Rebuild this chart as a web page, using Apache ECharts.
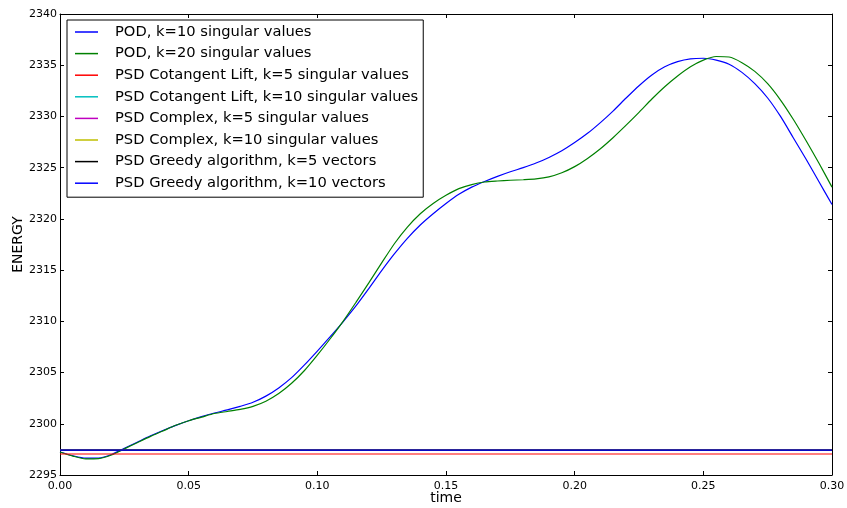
<!DOCTYPE html>
<html>
<head>
<meta charset="utf-8">
<script src="https://cdn.jsdelivr.net/npm/echarts@6/dist/echarts.min.js"></script>
<style>
html, body { margin: 0; padding: 0; background: #fff; }
#chart { width: 847px; height: 508px; }
</style>
</head>
<body>
<div id="chart"></div>
<script>
// time samples for the two POD curves
var times = [0, 0.005, 0.01, 0.015, 0.02, 0.025, 0.03, 0.035, 0.04, 0.045,
	0.05, 0.055, 0.06, 0.065, 0.07, 0.075, 0.08, 0.085, 0.09, 0.095,
	0.10, 0.105, 0.11, 0.115, 0.12, 0.125, 0.13, 0.135, 0.14, 0.145,
	0.15, 0.155, 0.16, 0.165, 0.17, 0.175, 0.18, 0.185, 0.19, 0.195,
	0.20, 0.205, 0.21, 0.215, 0.22, 0.225, 0.23, 0.235, 0.24, 0.245,
	0.25, 0.255, 0.26, 0.265, 0.27, 0.275, 0.28, 0.285, 0.29, 0.295, 0.30];

var pod10 = [2297.25, 2296.88, 2296.64, 2296.66, 2297.0, 2297.6, 2298.2, 2298.8, 2299.35, 2299.85,
	2300.3, 2300.7, 2301.05, 2301.35, 2301.7, 2302.1, 2302.7, 2303.5, 2304.5, 2305.75,
	2307.1, 2308.5, 2309.95, 2311.5, 2313.2, 2314.95, 2316.6, 2318.1, 2319.4, 2320.5,
	2321.5, 2322.4, 2323.1, 2323.65, 2324.15, 2324.6, 2325.0, 2325.45, 2326.0, 2326.65,
	2327.45, 2328.35, 2329.4, 2330.55, 2331.8, 2333.0, 2334.05, 2334.85, 2335.35, 2335.62,
	2335.68, 2335.5, 2335.1, 2334.3, 2333.2, 2331.8, 2330.0, 2327.9, 2325.8, 2323.6, 2321.4];

var pod20 = [2297.25, 2296.85, 2296.58, 2296.6, 2296.95, 2297.55, 2298.15, 2298.75, 2299.3, 2299.85,
	2300.3, 2300.65, 2301.0, 2301.2, 2301.4, 2301.7, 2302.2, 2302.95, 2303.95, 2305.2,
	2306.7, 2308.3, 2310.0, 2311.85, 2313.75, 2315.7, 2317.6, 2319.2, 2320.5, 2321.5,
	2322.3, 2322.95, 2323.35, 2323.6, 2323.7, 2323.77, 2323.82, 2323.9, 2324.1, 2324.5,
	2325.1, 2325.9, 2326.85, 2327.95, 2329.15, 2330.4, 2331.7, 2332.9, 2333.95, 2334.85,
	2335.5, 2335.85, 2335.8, 2335.25, 2334.4, 2333.2, 2331.6, 2329.7, 2327.6, 2325.4, 2323.1];

// PSD energies stay flat, two end points each
var flatTimes = [0, 0.30];
var psdCot5 = [2297.05, 2297.05];
var psdCot10 = [2297.42, 2297.42];
var psdCpx5 = [2297.42, 2297.42];
var psdCpx10 = [2297.42, 2297.42];
var greedy5 = [2297.42, 2297.42];
var greedy10 = [2297.42, 2297.42];

var names = [
	'POD, k=10 singular values',
	'POD, k=20 singular values',
	'PSD Cotangent Lift, k=5 singular values',
	'PSD Cotangent Lift, k=10 singular values',
	'PSD Complex, k=5 singular values',
	'PSD Complex, k=10 singular values',
	'PSD Greedy algorithm, k=5 vectors',
	'PSD Greedy algorithm, k=10 vectors'
];
var colors = ['#0000ff', '#008000', '#ff0000', '#00bfbf', '#bf00bf', '#bfbf00', '#000000', '#0000ff'];

function pairs(xs, ys) {
	var out = [];
	for (var i = 0; i < xs.length; i++) out.push([xs[i], ys[i]]);
	return out;
}

var seriesData = [
	pairs(times, pod10), pairs(times, pod20),
	pairs(flatTimes, psdCot5), pairs(flatTimes, psdCot10),
	pairs(flatTimes, psdCpx5), pairs(flatTimes, psdCpx10),
	pairs(flatTimes, greedy5), pairs(flatTimes, greedy10)
];

var font = 'DejaVu Sans';

var series = [];
for (var i = 0; i < names.length; i++) {
	series.push({
		name: names[i],
		type: 'line',
		data: seriesData[i],
		smooth: i < 2 ? 0.25 : false,
		symbol: 'none',
		animation: false,
		lineStyle: { color: colors[i], width: 1.2 },
		itemStyle: { color: colors[i] }
	});
}

var axisLine = { show: true, onZero: false, lineStyle: { color: '#000', width: 1 } };
var tick = { show: true, inside: true, length: 4, lineStyle: { color: '#000' } };

var chart = echarts.init(document.getElementById('chart'), null, { renderer: 'canvas' });
chart.setOption({
	backgroundColor: '#fff',
	animation: false,
	grid: { left: 60, right: 15, top: 14, bottom: 33, outerBoundsMode: 'none', containLabel: false },
	legend: {
		orient: 'vertical',
		left: 67,
		top: 20,
		padding: [3.5, 5, 5.5, 8],
		itemGap: 4.6,
		itemWidth: 23,
		itemHeight: 1.5,
		icon: 'rect',
		borderColor: '#000',
		borderWidth: 1,
		backgroundColor: '#fff',
		selectedMode: false,
		textStyle: { fontFamily: font, fontSize: 14.7, lineHeight: 17, color: '#000', padding: [0, 0, 0, 12] },
		data: names
	},
	xAxis: [{
		type: 'value',
		min: 0, max: 0.3, interval: 0.05,
		name: 'time',
		nameLocation: 'middle',
		nameGap: 16,
		nameMoveOverlap: false,
		nameTextStyle: { fontFamily: font, fontSize: 14, color: '#000' },
		axisLine: axisLine,
		axisTick: tick,
		splitLine: { show: false },
		axisLabel: {
			fontFamily: font, fontSize: 11, color: '#000', margin: 6,
			formatter: function (v) { return v.toFixed(2); }
		}
	}, {
		type: 'value',
		position: 'top',
		min: 0, max: 0.3, interval: 0.05,
		axisLine: axisLine,
		axisTick: tick,
		splitLine: { show: false },
		axisLabel: { show: false }
	}],
	yAxis: [{
		type: 'value',
		min: 2295, max: 2340, interval: 5,
		name: 'ENERGY',
		nameLocation: 'middle',
		nameGap: 35,
		nameMoveOverlap: false,
		nameTextStyle: { fontFamily: font, fontSize: 14, color: '#000' },
		axisLine: axisLine,
		axisTick: tick,
		splitLine: { show: false },
		axisLabel: {
			fontFamily: font, fontSize: 11, color: '#000', margin: 3,
			formatter: function (v) { return String(v); }
		}
	}, {
		type: 'value',
		position: 'right',
		min: 2295, max: 2340, interval: 5,
		axisLine: axisLine,
		axisTick: tick,
		splitLine: { show: false },
		axisLabel: { show: false }
	}],
	series: series
});
</script>
</body>
</html>
